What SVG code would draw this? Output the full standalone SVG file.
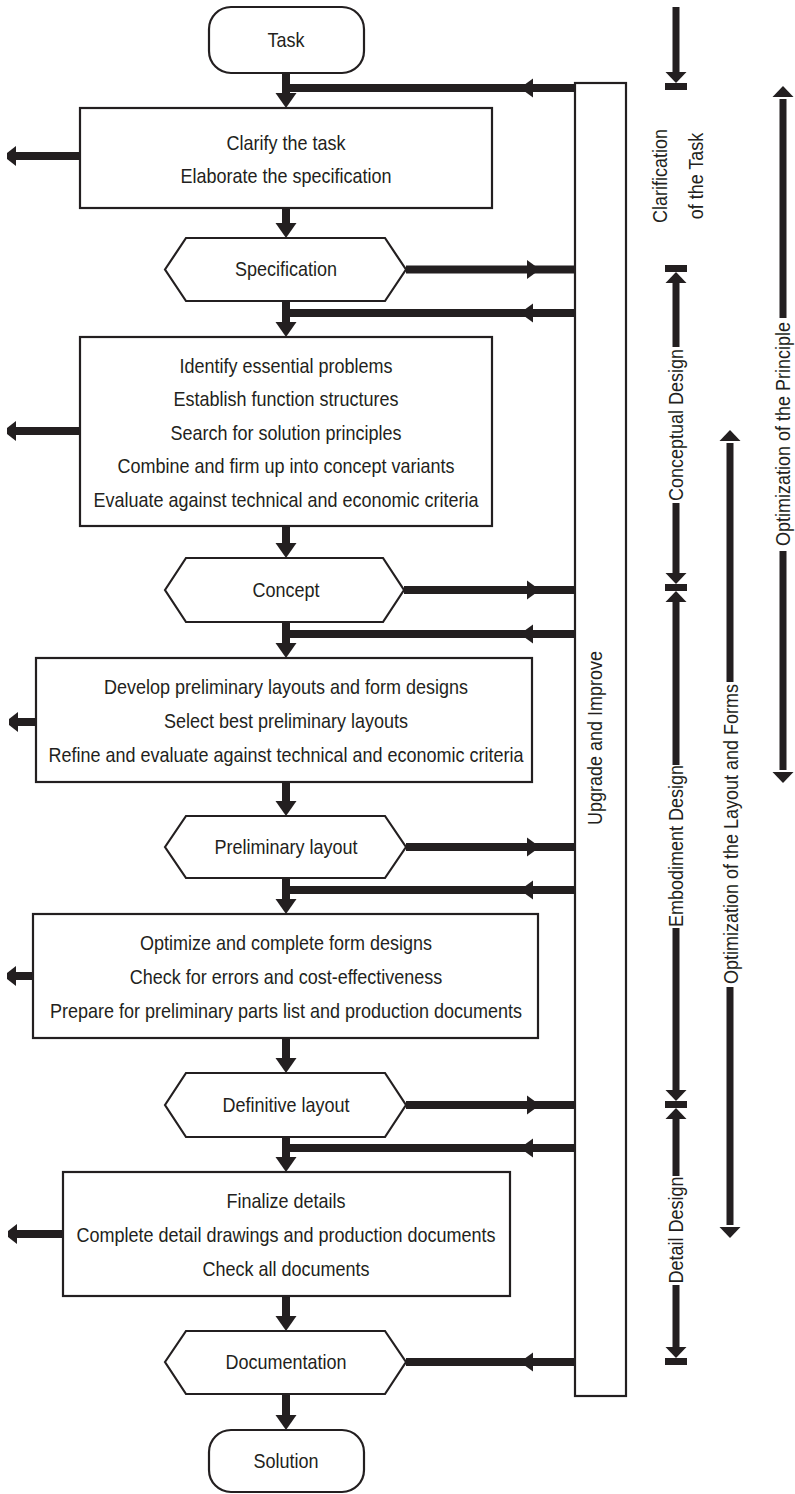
<svg xmlns="http://www.w3.org/2000/svg" width="795" height="1494" viewBox="0 0 795 1494">
<style>
.box{fill:#fff;stroke:#231f20;stroke-width:2.2}
.t{font-family:"Liberation Sans",Arial,sans-serif;font-size:20px;fill:#231f20;text-anchor:middle}
.ln{stroke:#231f20;stroke-width:8;fill:none}
.lv{stroke:#231f20;stroke-width:7;fill:none}
.ah{fill:#231f20}
</style>
<defs>
<polygon id="hd" class="ah" points="-10.5,-15 10.5,-15 0,0"/>
<polygon id="hl" class="ah" points="0,0 13,-9.5 13,9.5"/>
<polygon id="hr" class="ah" points="0,0 -13,-9.5 -13,9.5"/>
<polygon id="hlb" class="ah" points="0,-3 9,-10 9,10 0,3"/>
<polygon id="sd" class="ah" points="-10.5,-11 10.5,-11 0,0"/>
<polygon id="su" class="ah" points="-10.5,11 10.5,11 0,0"/>
</defs>

<g id="connectors">
<path class="ln" d="M286,73V95 M286,208V225 M286,301V324 M286,526V545 M286,622V645 M286,782V803 M286,878V901 M286,1038V1060 M286,1137V1159 M286,1296V1318 M286,1394V1417"/>
<use href="#hd" x="286" y="108"/>
<use href="#hd" x="286" y="238"/>
<use href="#hd" x="286" y="337"/>
<use href="#hd" x="286" y="558"/>
<use href="#hd" x="286" y="658"/>
<use href="#hd" x="286" y="816"/>
<use href="#hd" x="286" y="914"/>
<use href="#hd" x="286" y="1073"/>
<use href="#hd" x="286" y="1172"/>
<use href="#hd" x="286" y="1331"/>
<use href="#hd" x="286" y="1430"/>
<path class="ln" d="M575,88H282 M575,313H282 M575,634H282 M575,890H282 M575,1148H282"/>
<use href="#hl" x="520" y="88"/>
<use href="#hl" x="520" y="313"/>
<use href="#hl" x="520" y="634"/>
<use href="#hl" x="520" y="890"/>
<use href="#hl" x="520" y="1148"/>
<path class="ln" d="M406,269.5H575 M404,590H575 M406,847H575 M406,1105H575 M406,1362H575"/>
<use href="#hr" x="540" y="269.5"/>
<use href="#hr" x="540" y="590"/>
<use href="#hr" x="540" y="847"/>
<use href="#hr" x="540" y="1105"/>
<use href="#hl" x="520" y="1362"/>
<path class="ln" d="M80,156H15 M80,431H15 M36,722H17 M33,976H14 M63,1234H16"/>
<use href="#hlb" x="7" y="156"/>
<use href="#hlb" x="7" y="431"/>
<use href="#hlb" x="9" y="722"/>
<use href="#hlb" x="7" y="976"/>
<use href="#hlb" x="8" y="1234"/>
</g>

<g id="task">
<rect class="box" x="209" y="7" width="155" height="66" rx="22"/>
<text class="t" x="286" y="47.5" transform="matrix(0.9,0,0,1,28.6,0)">Task</text>
</g>
<g id="clarify">
<rect class="box" x="80" y="108" width="412" height="100"/>
<text class="t" x="286" y="150" transform="matrix(0.9,0,0,1,28.6,0)">Clarify the task</text>
<text class="t" x="286" y="183" transform="matrix(0.9,0,0,1,28.6,0)">Elaborate the specification</text>
</g>
<g id="specification">
<polygon class="box" points="165,269.5 186,238 385,238 406,269.5 385,301 186,301"/>
<text class="t" x="286" y="276.5" transform="matrix(0.9,0,0,1,28.6,0)">Specification</text>
</g>
<g id="conceptual-steps">
<rect class="box" x="80" y="337" width="412" height="189"/>
<text class="t" x="286" y="373" transform="matrix(0.9,0,0,1,28.6,0)">Identify essential problems</text>
<text class="t" x="286" y="406.5" transform="matrix(0.9,0,0,1,28.6,0)">Establish function structures</text>
<text class="t" x="286" y="440" transform="matrix(0.9,0,0,1,28.6,0)">Search for solution principles</text>
<text class="t" x="286" y="473.5" transform="matrix(0.9,0,0,1,28.6,0)">Combine and firm up into concept variants</text>
<text class="t" x="286" y="507" transform="matrix(0.9,0,0,1,28.6,0)">Evaluate against technical and economic criteria</text>
</g>
<g id="concept">
<polygon class="box" points="165,590 186,558 383,558 404,590 383,622 186,622"/>
<text class="t" x="286" y="597" transform="matrix(0.9,0,0,1,28.6,0)">Concept</text>
</g>
<g id="embodiment-steps-1">
<rect class="box" x="36" y="658" width="496" height="124"/>
<text class="t" x="286" y="694" transform="matrix(0.9,0,0,1,28.6,0)">Develop preliminary layouts and form designs</text>
<text class="t" x="286" y="728" transform="matrix(0.9,0,0,1,28.6,0)">Select best preliminary layouts</text>
<text class="t" x="286" y="762" transform="matrix(0.9,0,0,1,28.6,0)">Refine and evaluate against technical and economic criteria</text>
</g>
<g id="preliminary-layout">
<polygon class="box" points="165,847 186,816 385,816 406,847 385,878 186,878"/>
<text class="t" x="286" y="854" transform="matrix(0.9,0,0,1,28.6,0)">Preliminary layout</text>
</g>
<g id="embodiment-steps-2">
<rect class="box" x="33" y="914" width="505" height="124"/>
<text class="t" x="286" y="950" transform="matrix(0.9,0,0,1,28.6,0)">Optimize and complete form designs</text>
<text class="t" x="286" y="984" transform="matrix(0.9,0,0,1,28.6,0)">Check for errors and cost-effectiveness</text>
<text class="t" x="286" y="1018" transform="matrix(0.9,0,0,1,28.6,0)">Prepare for preliminary parts list and production documents</text>
</g>
<g id="definitive-layout">
<polygon class="box" points="165,1105 186,1073 385,1073 406,1105 385,1137 186,1137"/>
<text class="t" x="286" y="1112" transform="matrix(0.9,0,0,1,28.6,0)">Definitive layout</text>
</g>
<g id="detail-steps">
<rect class="box" x="63" y="1172" width="447" height="124"/>
<text class="t" x="286" y="1208" transform="matrix(0.9,0,0,1,28.6,0)">Finalize details</text>
<text class="t" x="286" y="1242" transform="matrix(0.9,0,0,1,28.6,0)">Complete detail drawings and production documents</text>
<text class="t" x="286" y="1276" transform="matrix(0.9,0,0,1,28.6,0)">Check all documents</text>
</g>
<g id="documentation">
<polygon class="box" points="165,1362 186,1331 385,1331 406,1362 385,1394 186,1394"/>
<text class="t" x="286" y="1369" transform="matrix(0.9,0,0,1,28.6,0)">Documentation</text>
</g>
<g id="solution">
<rect class="box" x="209" y="1430" width="155" height="62" rx="22"/>
<text class="t" x="286" y="1468" transform="matrix(0.9,0,0,1,28.6,0)">Solution</text>
</g>
<g id="upgrade">
<rect class="box" x="575" y="83" width="51" height="1313"/>
<text class="t" transform="translate(602,738) rotate(-90) scale(0.9,1)">Upgrade and Improve</text>
</g>

<g id="phases">
<path class="lv" d="M676,7V73 M676,283V347 M676,503V574 M676,602V765 M676,928V1091 M676,1119V1176 M676,1285V1348"/>
<use href="#sd" x="676" y="83"/>
<rect class="ah" x="665" y="83" width="22" height="7"/>
<rect class="ah" x="665" y="265" width="22" height="7"/>
<use href="#su" x="676" y="272"/>
<use href="#sd" x="676" y="584"/>
<rect class="ah" x="665" y="584" width="22" height="7"/>
<use href="#su" x="676" y="591"/>
<use href="#sd" x="676" y="1101"/>
<rect class="ah" x="665" y="1101" width="22" height="7"/>
<use href="#su" x="676" y="1108"/>
<use href="#sd" x="676" y="1358"/>
<rect class="ah" x="665" y="1358" width="22" height="7"/>
<text class="t" transform="translate(667,176) rotate(-90) scale(0.9,1)">Clarification</text>
<text class="t" transform="translate(703,176) rotate(-90) scale(0.9,1)">of the Task</text>
<text class="t" transform="translate(683,425) rotate(-90) scale(0.9,1)">Conceptual Design</text>
<text class="t" transform="translate(683,846) rotate(-90) scale(0.9,1)">Embodiment Design</text>
<text class="t" transform="translate(683,1230) rotate(-90) scale(0.9,1)">Detail Design</text>
</g>
<g id="optimization">
<path class="lv" d="M730,443V682 M730,987V1225 M783,99V318 M783,551V770"/>
<use href="#su" x="730" y="430"/>
<use href="#sd" x="730" y="1238"/>
<use href="#su" x="783" y="86"/>
<use href="#sd" x="783" y="783"/>
<text class="t" transform="translate(738,834) rotate(-90) scale(0.9,1)">Optimization of the Layout and Forms</text>
<text class="t" transform="translate(790,434) rotate(-90) scale(0.9,1)">Optimization of the Principle</text>
</g>
</svg>
